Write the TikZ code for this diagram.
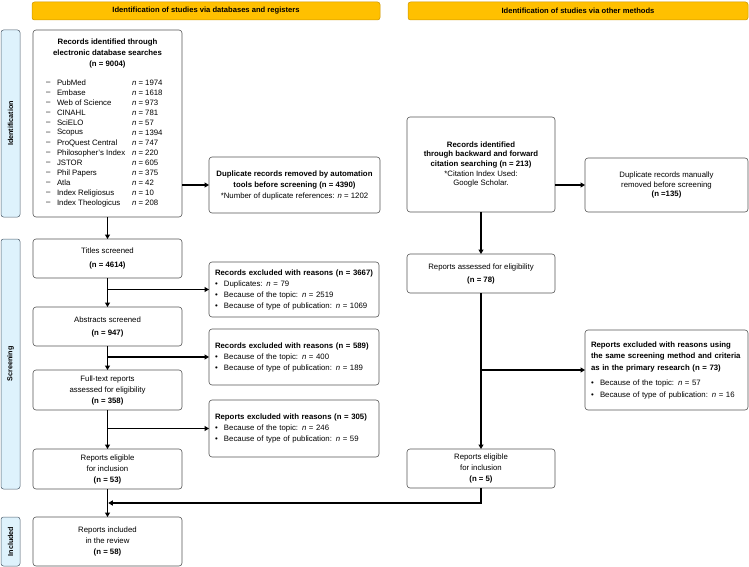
\documentclass[tikz,border=0pt]{standalone}
\usepackage{fontspec}
\setmainfont{Liberation Sans}
\usetikzlibrary{arrows.meta,calc}
\definecolor{hdr}{RGB}{255,192,0}
\definecolor{hdrline}{RGB}{205,150,0}
\definecolor{bandfill}{RGB}{222,242,252}
\definecolor{bandline}{RGB}{80,95,110}
\definecolor{boxline}{RGB}{85,85,85}
\newcommand{\ital}[1]{\textit{#1}}
\newcommand{\bul}{\makebox[9pt][l]{\textbullet}}
\begin{document}
\begin{tikzpicture}[x=1pt,y=-1pt,
  every node/.style={outer sep=0pt, font=\fontsize{7.8}{11}\selectfont},
  box/.style={draw=boxline, line width=0.6pt, rounded corners=3pt, fill=white, anchor=north west, inner sep=0pt, align=center},
  leftbox/.style={box, align=left, inner xsep=6pt},
  hdrbox/.style={draw=hdrline, line width=0.5pt, fill=hdr, rounded corners=2.5pt, anchor=north west, inner sep=0pt, font=\fontsize{7.6}{9}\selectfont\bfseries},
  bandbox/.style={draw=bandline, line width=0.5pt, fill=bandfill, rounded corners=2.5pt, anchor=north west, inner sep=0pt},
  bandtxt/.style={rotate=90, font=\fontsize{7.2}{9}\selectfont\bfseries},
  arr/.style={line width=1.5pt, -{Triangle[length=4.5pt,width=5pt]}}
]
\useasboundingbox (0,0) rectangle (749,567);

% headers
\node[hdrbox, minimum width=348pt, minimum height=18pt] (hL) at (32,2) {Identification of studies via databases and registers};
\node[hdrbox, minimum width=340pt, minimum height=18pt] (hR) at (408,2) {Identification of studies via other methods};

% bands
\node[bandbox, minimum width=19pt, minimum height=187pt] (bI) at (1,30) {};
\node[bandtxt] (bIt) at (bI.center) {Identification};
\node[bandbox, minimum width=19pt, minimum height=250pt] (bS) at (1,239) {};
\node[bandtxt] (bSt) at (bS.center) {Screening};
\node[bandbox, minimum width=19pt, minimum height=49pt] (bC) at (1,517) {};
\node[bandtxt] (bCt) at (bC.center) {Included};

% database box
\node[box, minimum width=149pt, minimum height=187pt] (db) at (33,30) {};
\node[align=center, font=\fontsize{7.8}{11}\selectfont\bfseries] (dbh) at (107.5,53) {Records identified through\\electronic database searches\\(n = 9004)};
\foreach \nm/\val [count=\i] in {PubMed/1974, Embase/1618, Web of Science/973, CINAHL/781, SciELO/57, Scopus/1394, ProQuest Central/747, Philosopher's Index/220, JSTOR/605, Phil Papers/375, Atla/42, Index Religiosus/10, Index Theologicus/208}{
  \node[anchor=west, inner sep=0pt] (dash\i) at (46,{73+10*\i}) {--};
  \node[anchor=west, inner sep=0pt] (name\i) at (57,{73+10*\i}) {\nm};
  \node[anchor=west, inner sep=0pt] (val\i) at (132,{73+10*\i}) {\ital{n} = \val};
}

\node[box, minimum width=171pt, minimum height=56pt] (dup) at (209,157) {\textbf{Duplicate records removed by automation}\\\textbf{tools before screening (n = 4390)}\\*Number of duplicate references: \ital{n} = 1202};

% screening column left
\node[box, minimum width=149pt, minimum height=39pt] (ti) at (33,239) {Titles screened\\[3pt]\textbf{(n = 4614)}};
\node[leftbox, minimum width=170pt, minimum height=55pt, text width=158pt] (ex1) at (209,262) {\mbox{\textbf{Records excluded with reasons (n = 3667)}}\\\bul Duplicates: \ital{n} = 79\\\bul Because of the topic: \ital{n} = 2519\\\bul Because of type of publication: \ital{n} = 1069};
\node[box, minimum width=149pt, minimum height=39pt] (ab) at (33,307) {Abstracts screened\\[2pt]\textbf{(n = 947)}};
\node[leftbox, minimum width=170pt, minimum height=56pt, text width=158pt] (ex2) at (209,329) {\mbox{\textbf{Records excluded with reasons (n = 589)}}\\\bul Because of the topic: \ital{n} = 400\\\bul Because of type of publication: \ital{n} = 189};
\node[box, minimum width=149pt, minimum height=40pt] (ft) at (33,370) {Full-text reports\\assessed for eligibility\\\textbf{(n = 358)}};
\node[leftbox, minimum width=170pt, minimum height=57pt, text width=158pt] (ex3) at (209,400) {\mbox{\textbf{Reports excluded with reasons (n = 305)}}\\\bul Because of the topic: \ital{n} = 246\\\bul Because of type of publication: \ital{n} = 59};
\node[box, minimum width=149pt, minimum height=40pt] (el) at (33,449) {Reports eligible\\for inclusion\\\textbf{(n = 53)}};
\node[box, minimum width=149pt, minimum height=49pt] (inc) at (33,517) {Reports included\\in the review\\\textbf{(n = 58)}};

% right column
\node[box, minimum width=148pt, minimum height=95pt, font=\fontsize{7.8}{9.6}\selectfont] (cit) at (407,117) {\textbf{Records identified}\\\textbf{through backward and forward}\\\textbf{citation searching (n = 213)}\\*Citation Index Used:\\Google Scholar.};
\node[box, minimum width=163pt, minimum height=54pt, font=\fontsize{7.8}{9.8}\selectfont] (dup2) at (585,158) {Duplicate records manually\\removed before screening\\\textbf{(n =135)}};
\node[box, minimum width=148pt, minimum height=39pt] (ra) at (407,254) {Reports assessed for eligibility\\[2pt]\textbf{(n = 78)}};
\node[leftbox, minimum width=163pt, minimum height=80pt, text width=151pt, font=\fontsize{7.8}{11.5}\selectfont] (ex4) at (585,330) {\mbox{\textbf{Reports excluded with reasons using}}\\\mbox{\textbf{the same screening method and criteria}}\\\mbox{\textbf{as in the primary research (n = 73)}}\\[4pt]\bul Because of the topic: \ital{n} = 57\\\bul Because of type of publication: \ital{n} = 16};
\node[box, minimum width=148pt, minimum height=39pt] (el2) at (407,449) {Reports eligible\\for inclusion\\\textbf{(n = 5)}};

% connectors left
\draw[arr] (db.south) -- (ti.north);
\draw[arr] (db.east |- dup.west) -- (dup.west);
\draw[arr] (ti.south) -- (ab.north);
\draw[arr] (ti.south |- ex1.west) -- (ex1.west);
\draw[arr] (ab.south) -- (ft.north);
\draw[arr] (ab.south |- ex2.west) -- (ex2.west);
\draw[arr] (ft.south) -- (el.north);
\draw[arr] (ft.south |- ex3.west) -- (ex3.west);
\draw[arr] (el.south) -- (inc.north);

% connectors right
\draw[arr] (cit.south) -- (ra.north);
\draw[arr] (cit.east |- dup2.west) -- (dup2.west);
\draw[arr] (ra.south) -- (el2.north);
\draw[arr] (ra.south |- ex4.west) -- (ex4.west);
\coordinate (mg) at ($(el.south)!0.5!(inc.north)$);
\draw[arr] (el2.south) |- ([xshift=0.75pt]mg);
\end{tikzpicture}
\end{document}
